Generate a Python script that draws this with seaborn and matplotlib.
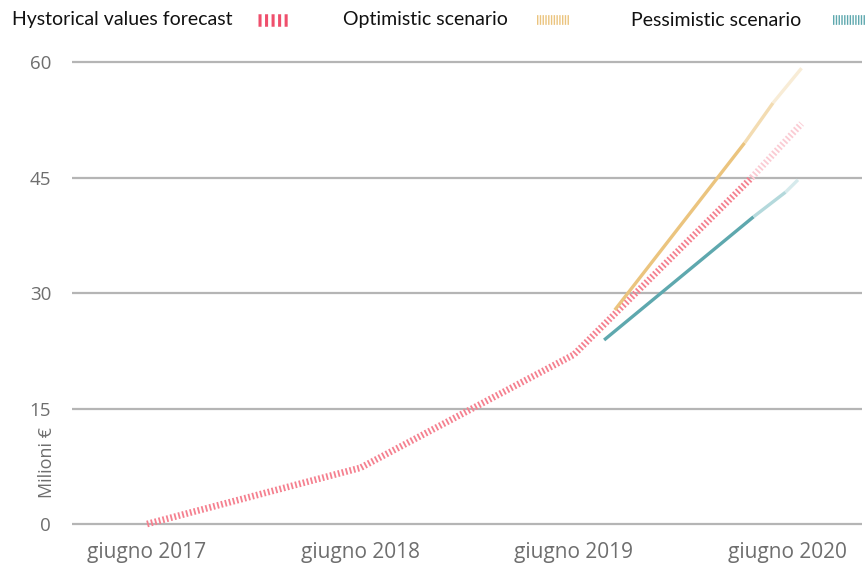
import matplotlib
matplotlib.use("Agg")
import matplotlib.pyplot as plt
from matplotlib.lines import Line2D
import seaborn as sns
import pandas as pd

# Months elapsed since June 2017
tick_months = [0, 12, 24, 36]
tick_labels = ["giugno 2017", "giugno 2018", "giugno 2019", "giugno 2020"]
y_ticks = [0, 15, 30, 45, 60]

hist_months = [0, 12, 24, 34.0]
hist_values = [0, 7.3, 22.0, 45.0]
hist_tail_months = [34.0, 36.8]
hist_tail_values = [45.0, 52.0]

opt_months = [26.3, 33.6]
opt_values = [27.8, 49.5]
opt_tail_months = [33.6, 35.2, 36.8]
opt_tail_values = [49.5, 54.7, 59.2]

pes_months = [25.7, 34.1]
pes_values = [23.9, 39.9]
pes_tail_months = [34.1, 35.9, 36.6]
pes_tail_values = [39.9, 43.1, 44.7]

legend_labels = ["Hystorical values forecast", "Optimistic scenario", "Pessimistic scenario"]

RED = "#f5808f"
RED_LIGHT = "#fbcbd3"
RED_LEGEND = "#ef4f6c"
YELLOW = "#ebc47e"
YELLOW_MID = "#f3dcb2"
YELLOW_LIGHT = "#f8ecd6"
TEAL = "#5ea8ae"
TEAL_MID = "#b4d9dc"
TEAL_LIGHT = "#d6eaec"
AXIS_GREY = "#6e6e6e"

sns.set_theme(style="white")
plt.rcParams["lines.scale_dashes"] = False
plt.rcParams["font.family"] = ["Open Sans", "DejaVu Sans"]

fig = plt.figure(figsize=(8.68, 5.69), dpi=100)
ax = fig.add_axes([72 / 868, 1 - 539.4 / 569, 790 / 868, (539.4 - 50.5) / 569])


def frame(months, values):
    return pd.DataFrame({"month": months, "value": values})


hatch = dict(linewidth=4.8, dashes=(1.3, 1.6), solid_capstyle="butt", dash_capstyle="butt")

sns.lineplot(data=frame(hist_months, hist_values), x="month", y="value", ax=ax,
             color=RED, **hatch)
sns.lineplot(data=frame(hist_tail_months, hist_tail_values), x="month", y="value", ax=ax,
             color=RED_LIGHT, **hatch)

sns.lineplot(data=frame(opt_months, opt_values), x="month", y="value", ax=ax,
             color=YELLOW, linewidth=2.4, solid_capstyle="butt")
sns.lineplot(data=frame(opt_tail_months[:2], opt_tail_values[:2]), x="month", y="value", ax=ax,
             color=YELLOW_MID, linewidth=2.4, solid_capstyle="butt")
sns.lineplot(data=frame(opt_tail_months[1:], opt_tail_values[1:]), x="month", y="value", ax=ax,
             color=YELLOW_LIGHT, linewidth=2.4, solid_capstyle="butt")

sns.lineplot(data=frame(pes_months, pes_values), x="month", y="value", ax=ax,
             color=TEAL, linewidth=2.4, solid_capstyle="butt")
sns.lineplot(data=frame(pes_tail_months[:2], pes_tail_values[:2]), x="month", y="value", ax=ax,
             color=TEAL_MID, linewidth=2.4, solid_capstyle="butt")
sns.lineplot(data=frame(pes_tail_months[1:], pes_tail_values[1:]), x="month", y="value", ax=ax,
             color=TEAL_LIGHT, linewidth=2.4, solid_capstyle="butt")

ax.set_xlim(-4.22, 40.2)
ax.set_ylim(-2.0, 61.5)
ax.set_xticks(tick_months)
ax.set_xticklabels(tick_labels)
ax.set_yticks(y_ticks)
ax.set_yticklabels([str(v) for v in y_ticks])
ax.yaxis.grid(True, color="#b5b5b5", linewidth=1.6)
ax.set_axisbelow(True)
ax.tick_params(axis="y", length=0, colors=AXIS_GREY, labelsize=13.5, pad=15)
ax.tick_params(axis="x", length=0, colors=AXIS_GREY, labelsize=15, pad=2)
for s in ax.spines.values():
    s.set_visible(False)
ax.set_xlabel("")
ax.set_ylabel("Milioni €", color=AXIS_GREY, fontsize=13)
ax.yaxis.set_label_coords(-0.020, 0.158)

# Legend row across the top
text_kw = dict(fontsize=14, color="#111111", va="center", ha="left",
               family=["Lato", "DejaVu Sans"])
ly = 1 - 20 / 569
fig.text(12 / 868, ly, legend_labels[0], **text_kw)
fig.text(343 / 868, ly, legend_labels[1], **text_kw)
fig.text(631 / 868, ly, legend_labels[2], **text_kw)


def swatch(x0, x1, color, lw, dashes):
    fig.add_artist(Line2D([x0 / 868, x1 / 868], [ly, ly], transform=fig.transFigure,
                          color=color, linewidth=lw, dashes=dashes,
                          solid_capstyle="butt", dash_capstyle="butt"))


swatch(258, 288, RED_LEGEND, 9.0, (2.2, 2.5))
swatch(537, 570, YELLOW, 7.0, (1.0, 1.0))
swatch(833, 866, TEAL, 7.0, (1.0, 1.0))

fig.savefig("out.png", dpi=100)
